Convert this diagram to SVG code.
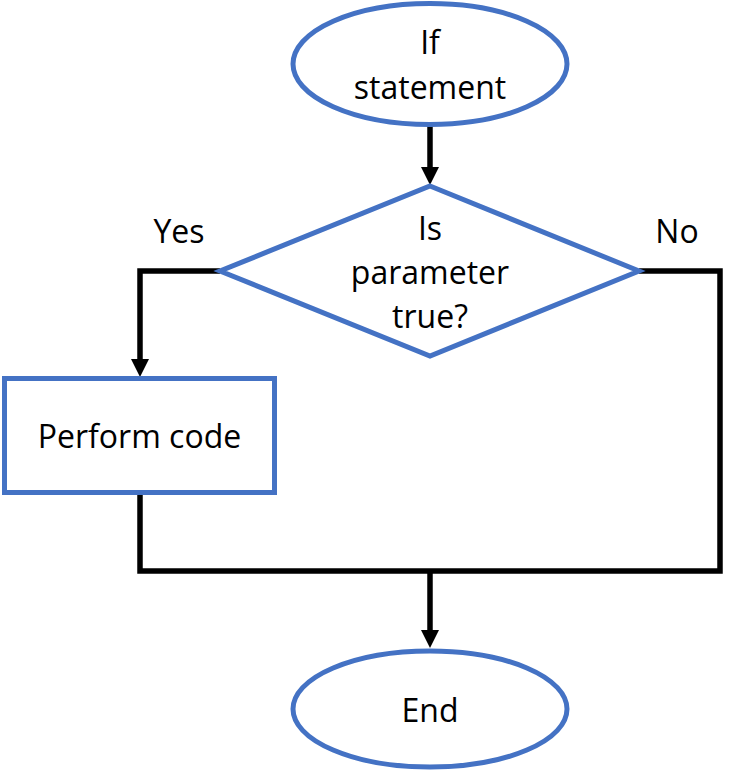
<svg xmlns="http://www.w3.org/2000/svg" width="735" height="774" viewBox="0 0 735 774">
<style>
.shape{fill:#fff;stroke:#4472C4;stroke-width:5}
.conn{fill:none;stroke:#000;stroke-width:5.5;stroke-linejoin:miter}
text{font-family:"Open Sans","Noto Sans",sans-serif;font-size:32px;fill:#000;text-anchor:middle}
</style>
<defs>
<marker id="arr" markerUnits="userSpaceOnUse" markerWidth="19" markerHeight="19" refX="0" refY="9" orient="auto" overflow="visible">
<path d="M0,0 L18,9 L0,18 z" fill="#000"/>
</marker>
</defs>
<rect width="735" height="774" fill="#fff"/>
<g id="connectors">
<path class="conn" d="M430,125 V167" marker-end="url(#arr)"/>
<path class="conn" d="M220,271 H140 V359" marker-end="url(#arr)"/>
<path class="conn" d="M140,495 V571 H720 V271 H639"/>
<path class="conn" d="M430,571 V630" marker-end="url(#arr)"/>
</g>
<g id="start">
<ellipse class="shape" cx="430" cy="64" rx="137" ry="60.5"/>
<text x="430" y="54">If</text>
<text x="430" y="99">statement</text>
</g>
<g id="decision">
<polygon class="shape" points="430,186 639,271 430,356 220,271"/>
<text x="430" y="240">Is</text>
<text x="430" y="284">parameter</text>
<text x="430" y="328">true?</text>
</g>
<g id="label-yes"><text x="179" y="243">Yes</text></g>
<g id="label-no"><text x="677" y="243">No</text></g>
<g id="perform">
<rect class="shape" x="4.5" y="378.5" width="270" height="114"/>
<text x="139.5" y="448">Perform code</text>
</g>
<g id="end">
<ellipse class="shape" cx="430" cy="709" rx="137" ry="58"/>
<text x="430" y="722">End</text>
</g>
</svg>
